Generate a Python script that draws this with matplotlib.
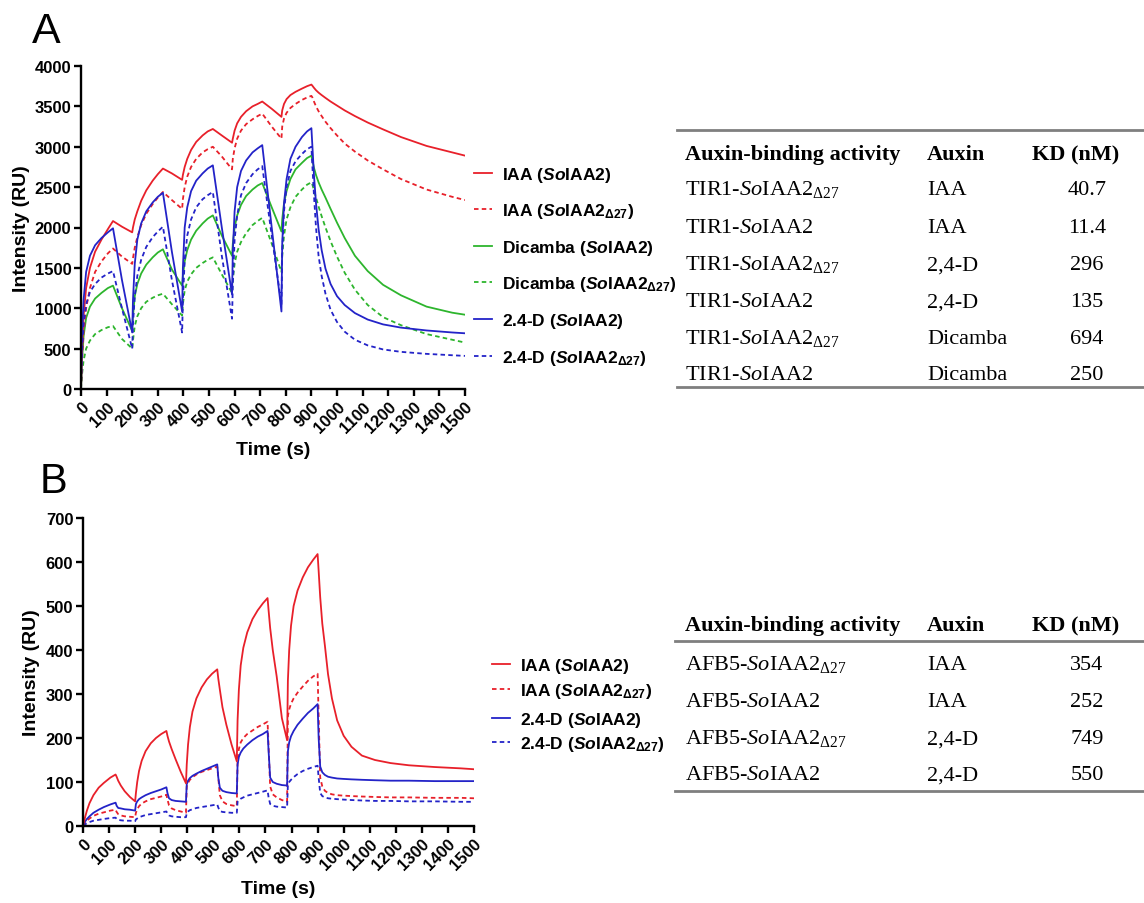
import matplotlib
matplotlib.use("Agg")
import matplotlib.pyplot as plt
from matplotlib.lines import Line2D

plt.rcParams.update({
    "mathtext.fontset": "custom",
    "mathtext.rm": "Liberation Serif",
    "mathtext.it": "Liberation Serif:italic",
    "mathtext.bf": "Liberation Sans:bold",
    "mathtext.sf": "Liberation Sans:bold",
})
try:
    plt.rcParams["mathtext.bfit"] = "Liberation Sans:italic:bold"
except KeyError:
    pass

# ---------------- data: panel A (TIR1) ----------------
TIME_A = [0, 3, 10, 20, 35, 55, 80, 105, 125, 160, 200,
          203, 210, 220, 235, 255, 280, 300, 320, 355, 395,
          398, 405, 415, 430, 450, 475, 495, 515, 550, 590,
          593, 600, 610, 625, 645, 670, 690, 708, 745, 783,
          786, 793, 803, 818, 838, 863, 883, 900,
          904, 910, 918, 928, 940, 955, 975, 1000, 1030, 1070, 1120, 1180, 1250, 1350, 1450, 1500]

IAA_A = [0, 400, 900, 1250, 1500, 1700, 1850, 1980, 2080, 2010, 1940,
         2000, 2100, 2200, 2330, 2460, 2580, 2660, 2730, 2670, 2590,
         2650, 2750, 2850, 2960, 3060, 3140, 3190, 3220, 3140, 3050,
         3100, 3200, 3290, 3370, 3440, 3500, 3530, 3560, 3470, 3370,
         3450, 3530, 3590, 3640, 3680, 3720, 3750, 3770,
         3755, 3730, 3700, 3670, 3640, 3605, 3560, 3510, 3450, 3380, 3300, 3215, 3120, 3010, 2930, 2890]
IAA_D27_A = [0, 300, 700, 1000, 1250, 1450, 1580, 1680, 1740, 1640, 1550,
             1620, 1750, 1880, 2030, 2170, 2290, 2370, 2440, 2340, 2230,
             2350, 2500, 2630, 2750, 2850, 2930, 2970, 3000, 2880, 2720,
             2850, 2980, 3100, 3200, 3280, 3340, 3380, 3410, 3250, 3100,
             3250, 3350, 3420, 3480, 3530, 3580, 3610, 3630,
             3610, 3560, 3500, 3440, 3380, 3310, 3230, 3140, 3040, 2940, 2830, 2720, 2600, 2470, 2380, 2340]
DIC_A = [0, 300, 650, 880, 1020, 1120, 1190, 1250, 1280, 1000, 720,
         900, 1150, 1300, 1430, 1540, 1630, 1690, 1730, 1480, 1280,
         1400, 1580, 1720, 1850, 1960, 2050, 2110, 2150, 1900, 1650,
         1800, 2000, 2150, 2280, 2390, 2470, 2520, 2550, 2250, 1950,
         2100, 2300, 2450, 2600, 2720, 2800, 2860, 2890,
         2830, 2740, 2650, 2560, 2470, 2370, 2230, 2060, 1870, 1650, 1460, 1290, 1160, 1020, 945, 920]
DIC_D27_A = [0, 150, 350, 500, 600, 680, 730, 765, 780, 620, 500,
             600, 780, 900, 1000, 1080, 1130, 1160, 1180, 1050, 910,
             1050, 1220, 1330, 1420, 1500, 1560, 1600, 1630, 1420, 1190,
             1350, 1550, 1700, 1820, 1930, 2030, 2080, 2120, 1800, 1450,
             1650, 1900, 2100, 2250, 2380, 2470, 2530, 2560,
             2530, 2460, 2370, 2260, 2140, 2000, 1830, 1640, 1440, 1230, 1040, 890, 790, 680, 610, 575]
D24_A = [0, 600, 1100, 1450, 1650, 1780, 1870, 1940, 1990, 1350, 700,
         1100, 1550, 1850, 2050, 2200, 2310, 2380, 2430, 1700, 960,
         1500, 2000, 2250, 2450, 2580, 2670, 2730, 2770, 2000, 1170,
         1700, 2200, 2500, 2700, 2830, 2930, 2980, 3020, 2000, 960,
         1800, 2300, 2600, 2850, 3000, 3120, 3190, 3230,
         3000, 2650, 2300, 1980, 1720, 1490, 1300, 1150, 1040, 940, 860, 800, 760, 725, 700, 690]
D24_D27_A = [0, 400, 800, 1050, 1200, 1300, 1380, 1430, 1460, 1000, 500,
             800, 1150, 1400, 1600, 1760, 1880, 1950, 2010, 1350, 700,
             1100, 1600, 1900, 2100, 2250, 2350, 2400, 2440, 1650, 870,
             1300, 1850, 2150, 2400, 2550, 2660, 2720, 2760, 1900, 1050,
             1700, 2200, 2500, 2700, 2820, 2910, 2970, 3000,
             2750, 2400, 2000, 1650, 1400, 1180, 980, 830, 710, 610, 540, 490, 460, 435, 418, 410]

# ---------------- data: panel B (AFB5) ----------------
TIME_B = [0, 3, 8, 15, 25, 40, 60, 80, 105, 125, 129, 135, 145, 160, 180, 200,
          203, 208, 215, 225, 240, 260, 280, 300, 320, 324, 330, 340, 355, 375, 395,
          398, 403, 410, 420, 435, 455, 475, 495, 515, 519, 525, 535, 550, 570, 590,
          593, 598, 605, 615, 630, 650, 670, 690, 708, 712, 718, 728, 743, 763, 783,
          786, 791, 798, 808, 823, 843, 863, 883, 900,
          904, 910, 918, 928, 940, 955, 975, 1000, 1030, 1070, 1120, 1180, 1250, 1350, 1450, 1500]

IAA_B = [0, 8, 20, 35, 52, 70, 87, 98, 110, 117, 112, 103, 92, 79, 66, 56,
         75, 100, 125, 148, 170, 188, 200, 209, 216, 205, 192, 175, 152, 123, 97,
         140, 185, 225, 260, 290, 315, 333, 346, 356, 335, 310, 270, 230, 185, 147,
         240, 310, 365, 405, 440, 470, 490, 506, 518, 490, 450, 400, 340, 245, 195,
         330, 400, 455, 500, 535, 565, 588, 605, 618,
         580, 520, 460, 410, 345, 290, 240, 205, 180, 160, 150, 143, 138, 134, 131, 129]
IAA_D27_B = [0, 3, 7, 12, 17, 23, 28, 31, 35, 37, 32, 27, 24, 22, 21, 20,
             30, 38, 45, 51, 56, 61, 64, 67, 71, 60, 47, 40, 36, 33, 30,
             90, 98, 105, 111, 117, 123, 127, 131, 135, 110, 70, 56, 50, 47, 45,
             150, 175, 190, 200, 209, 217, 225, 231, 237, 180, 90, 72, 65, 59, 55,
             250, 265, 278, 290, 303, 317, 330, 340, 346,
             250, 110, 90, 80, 75, 72, 70, 69, 68, 67, 66, 65, 65, 64, 64, 63]
D24_B = [0, 5, 10, 16, 22, 30, 37, 43, 49, 53, 46, 41, 40, 38, 37, 35,
         50, 56, 61, 65, 70, 75, 79, 83, 88, 75, 63, 59, 57, 56, 55,
         95, 103, 109, 114, 119, 125, 130, 135, 140, 110, 87, 80, 77, 75, 74,
         140, 157, 167, 176, 185, 195, 203, 209, 216, 170, 110, 100, 96, 93, 92,
         170, 190, 204, 216, 230, 244, 257, 267, 277,
         200, 135, 122, 116, 112, 110, 108, 107, 106, 105, 104, 103, 103, 102, 102, 102]
D24_D27_B = [0, 2, 4, 6, 9, 12, 14, 16, 18, 19, 16, 14, 13, 12, 12, 11,
             15, 17, 20, 22, 25, 27, 29, 31, 33, 28, 24, 22, 21, 20, 20,
             30, 33, 36, 38, 41, 43, 45, 47, 49, 42, 34, 32, 31, 30, 30,
             55, 59, 62, 65, 69, 72, 75, 78, 81, 65, 50, 46, 44, 43, 42,
             95, 100, 105, 111, 118, 125, 130, 134, 137,
             110, 75, 68, 65, 63, 62, 61, 60, 59, 58, 57, 57, 56, 56, 55, 55]

X_TICKS = list(range(0, 1501, 100))
Y_TICKS_A = list(range(0, 4001, 500))
Y_TICKS_B = list(range(0, 701, 100))

LEGEND_A = ["IAA ($\\mathbfit{So}$IAA2)",
            "IAA ($\\mathbfit{So}$IAA2$_{\\mathbf{Δ27}}$)",
            "Dicamba ($\\mathbfit{So}$IAA2)",
            "Dicamba ($\\mathbfit{So}$IAA2$_{\\mathbf{Δ27}}$)",
            "2.4-D ($\\mathbfit{So}$IAA2)",
            "2.4-D ($\\mathbfit{So}$IAA2$_{\\mathbf{Δ27}}$)"]
LEGEND_B = ["IAA ($\\mathbfit{So}$IAA2)",
            "IAA ($\\mathbfit{So}$IAA2$_{\\mathbf{Δ27}}$)",
            "2.4-D ($\\mathbfit{So}$IAA2)",
            "2.4-D ($\\mathbfit{So}$IAA2$_{\\mathbf{Δ27}}$)"]

TABLE_HEADER = ["Auxin-binding activity", "Auxin", "KD (nM)"]
TABLE_A_COMPLEX = ["TIR1-$\\mathit{So}$IAA2$_{\\mathrm{Δ27}}$", "TIR1-$\\mathit{So}$IAA2",
                   "TIR1-$\\mathit{So}$IAA2$_{\\mathrm{Δ27}}$", "TIR1-$\\mathit{So}$IAA2",
                   "TIR1-$\\mathit{So}$IAA2$_{\\mathrm{Δ27}}$", "TIR1-$\\mathit{So}$IAA2"]
TABLE_A_AUXIN = ["IAA", "IAA", "2,4-D", "2,4-D", "Dicamba", "Dicamba"]
TABLE_A_KD = ["40.7", "11.4", "296", "135", "694", "250"]
TABLE_B_COMPLEX = ["AFB5-$\\mathit{So}$IAA2$_{\\mathrm{Δ27}}$", "AFB5-$\\mathit{So}$IAA2",
                   "AFB5-$\\mathit{So}$IAA2$_{\\mathrm{Δ27}}$", "AFB5-$\\mathit{So}$IAA2"]
TABLE_B_AUXIN = ["IAA", "IAA", "2,4-D", "2,4-D"]
TABLE_B_KD = ["354", "252", "749", "550"]

RED, GREEN, BLUE = "#e8202a", "#2db52d", "#2323c8"
DASH = (0, (2.5, 1.8))
LW = 1.3

# ---------------- figure ----------------
W, H = 1144, 904
fig = plt.figure(figsize=(W / 100, H / 100), dpi=100)


def fx(px):
    return px / W


def fy(py):
    return 1 - py / H


SANS = "Liberation Sans"
SERIF = "Liberation Serif"

axA = fig.add_axes([fx(81), fy(390), fx(465) - fx(81), fy(67) - fy(390)])
axB = fig.add_axes([fx(83), fy(827), fx(474) - fx(83), fy(519) - fy(827)])


def style(ax, yticks, ylab_x, xlab_y):
    ax.set_xlim(0, 1500)
    ax.set_ylim(0, yticks[-1])
    ax.set_xticks(X_TICKS)
    ax.set_yticks(yticks)
    ax.set_xticklabels([str(v) for v in X_TICKS], rotation=45, ha="right",
                       rotation_mode="anchor", fontsize=12, fontweight="bold", family=SANS)
    ax.set_yticklabels([str(v) for v in yticks], fontsize=12, fontweight="bold", family=SANS)
    for s in ["top", "right"]:
        ax.spines[s].set_visible(False)
    for s in ["left", "bottom"]:
        ax.spines[s].set_linewidth(1.7)
    ax.tick_params(width=1.7, length=5, direction="out", pad=2)
    ax.set_ylabel("Intensity (RU)", fontsize=14, fontweight="bold", family=SANS)
    ax.set_xlabel("Time (s)", fontsize=14, fontweight="bold", family=SANS)
    ax.yaxis.set_label_coords(ylab_x, 0.5)
    ax.xaxis.set_label_coords(0.5, xlab_y)


# Panel A curves
axA.plot(TIME_A, DIC_D27_A, color=GREEN, lw=LW, ls=DASH)
axA.plot(TIME_A, DIC_A, color=GREEN, lw=LW)
axA.plot(TIME_A, IAA_D27_A, color=RED, lw=LW, ls=DASH)
axA.plot(TIME_A, IAA_A, color=RED, lw=LW)
axA.plot(TIME_A, D24_D27_A, color=BLUE, lw=LW, ls=DASH)
axA.plot(TIME_A, D24_A, color=BLUE, lw=LW)
style(axA, Y_TICKS_A, -0.132, -0.160)

# Panel B curves
axB.plot(TIME_B, IAA_D27_B, color=RED, lw=LW, ls=DASH)
axB.plot(TIME_B, D24_D27_B, color=BLUE, lw=LW, ls=DASH)
axB.plot(TIME_B, D24_B, color=BLUE, lw=LW)
axB.plot(TIME_B, IAA_B, color=RED, lw=LW)
style(axB, Y_TICKS_B, -0.110, -0.175)

# Panel letters
fig.text(fx(32), fy(43), "A", fontsize=31, family=SANS, va="baseline", ha="left")
fig.text(fx(40), fy(493), "B", fontsize=30, family=SANS, va="baseline", ha="left")

# Legends (manual, to match positions)
LEG_FS = 12.5
LEG_CAP = LEG_FS * 100 / 72 * 0.716 / 2


def legend(labels, colors, styles, x0, x1, xt, rows):
    for lab, c, st, yc in zip(labels, colors, styles, rows):
        fig.add_artist(Line2D([fx(x0), fx(x1)], [fy(yc), fy(yc)], color=c, lw=LW,
                              ls=st, transform=fig.transFigure))
        fig.text(fx(xt), fy(yc + LEG_CAP), lab, fontsize=LEG_FS, fontweight="bold",
                 family=SANS, va="baseline", ha="left")


legend(LEGEND_A, [RED, RED, GREEN, GREEN, BLUE, BLUE],
       ["-", DASH] * 3, 474, 492, 502, [174, 210, 247, 283, 320, 357])
legend(LEGEND_B, [RED, RED, BLUE, BLUE], ["-", DASH] * 2,
       492, 510, 520, [665, 690, 719, 743])

# Tables
TAB_FS = 16
TAB_CAP = TAB_FS * 100 / 72 * 0.662 / 2
COL_X = [685, 927, 1032]
KD_X = 1087
RULE = "#7f7f7f"


def hline(y, x0=677, x1=1144, lw=2.0):
    fig.add_artist(Line2D([fx(x0), fx(x1)], [fy(y), fy(y)], color=RULE, lw=lw,
                          transform=fig.transFigure))


def table(header_y, row_ys, complexes, auxins, kds):
    for x, h in zip(COL_X, TABLE_HEADER):
        fig.text(fx(x), fy(header_y + TAB_CAP), h, fontsize=TAB_FS, fontweight="bold",
                 family=SERIF, va="baseline", ha="left")
    for y, c, a, k in zip(row_ys, complexes, auxins, kds):
        yb = fy(y + TAB_CAP)
        fig.text(fx(COL_X[0]), yb, c, fontsize=TAB_FS, family=SERIF, va="baseline", ha="left")
        fig.text(fx(COL_X[1]), yb, a, fontsize=TAB_FS, family=SERIF, va="baseline", ha="left")
        fig.text(fx(KD_X), yb, k, fontsize=TAB_FS, family=SERIF, va="baseline", ha="center")


hline(131)
hline(388)
table(153, [188, 226, 263, 300, 337, 373], TABLE_A_COMPLEX, TABLE_A_AUXIN, TABLE_A_KD)

hline(642, x0=675)
hline(792, x0=675)
table(624, [663, 700, 737, 773], TABLE_B_COMPLEX, TABLE_B_AUXIN, TABLE_B_KD)

fig.savefig("out.png", dpi=100)
